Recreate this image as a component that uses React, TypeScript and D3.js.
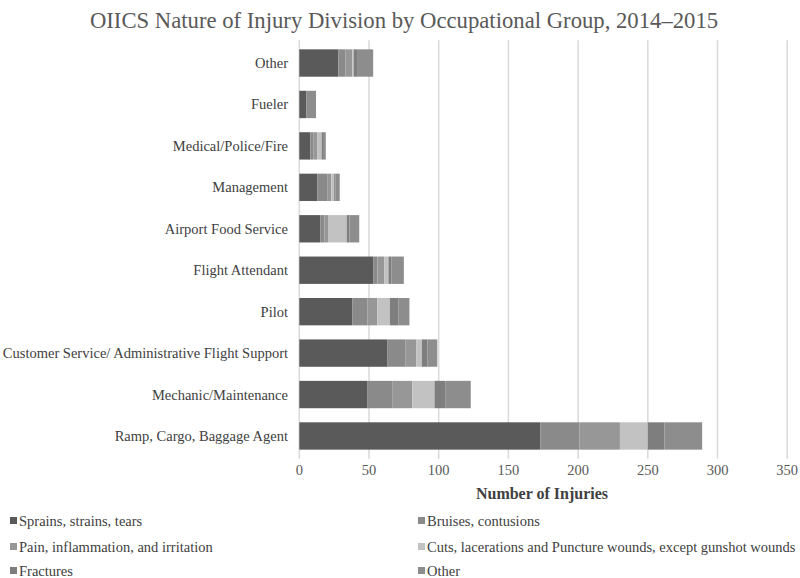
import React from "react";
import * as d3 from "d3";

const categories = [
  "Other",
  "Fueler",
  "Medical/Police/Fire",
  "Management",
  "Airport Food Service",
  "Flight Attendant",
  "Pilot",
  "Customer Service/ Administrative Flight Support",
  "Mechanic/Maintenance",
  "Ramp, Cargo, Baggage Agent",
];

const seriesNames = [
  "Sprains, strains, tears",
  "Bruises, contusions",
  "Pain, inflammation, and irritation",
  "Cuts, lacerations and Puncture wounds, except gunshot wounds",
  "Fractures",
  "Other",
];

const sprains = [28, 5, 8, 13, 15, 53, 38, 63, 49, 173];
const bruises = [5, 0, 2, 7, 3, 3, 11, 13, 18, 28];
const pain = [5, 0, 3, 3, 3, 5, 7, 8, 14, 29];
const cuts = [1, 0, 3, 2, 13, 3, 9, 4, 16, 20];
const fractures = [3, 0, 1, 1, 2, 2, 6, 4, 8, 12];
const other = [11, 7, 2, 3, 7, 9, 8, 7, 18, 27];

const xTicks = [0, 50, 100, 150, 200, 250, 300, 350];

const colors = ["#5a5a5a", "#8a8a8a", "#979797", "#c2c2c2", "#7e7e7e", "#8d8d8d"];

export default function App() {
  const W = 800;
  const H = 578;
  const left = 299.3;
  const right = 787.2;
  const top = 42.3;
  const bottom = 456.7;
  const font = "'Liberation Serif', 'Times New Roman', serif";

  const x = d3.scaleLinear().domain([0, 350]).range([left, right]);
  const y = d3.scaleBand().domain(categories).range([top, bottom]).paddingInner(0.34).paddingOuter(0.17);

  const seriesData = [sprains, bruises, pain, cuts, fractures, other];
  const rows = categories.map((c, i) => {
    const o: any = { cat: c };
    seriesNames.forEach((s, j) => (o[s] = seriesData[j][i]));
    return o;
  });
  const stack = d3.stack<any>().keys(seriesNames)(rows);

  const legendPos = [
    [10, 521],
    [418, 521],
    [10, 547],
    [418, 547],
    [10, 571],
    [418, 571],
  ];

  return (
    <svg width={W} height={H} style={{ position: "absolute", left: 0, top: 0, background: "#fff" }} fontFamily={font}>
      <text x={404} y={28} textAnchor="middle" fontSize={22.7} fill="#595959">
        OIICS Nature of Injury Division by Occupational Group, 2014–2015
      </text>
      {xTicks.map((t) => (
        <line key={t} x1={x(t)} x2={x(t)} y1={top - 2} y2={bottom + 2} stroke="#d9d9d9" strokeWidth={1.5} />
      ))}
      {stack.map((layer, j) => (
        <g key={j} fill={colors[j]}>
          {layer.map((d, i) => (
            <rect
              key={i}
              x={x(d[0])}
              width={Math.max(0, x(d[1]) - x(d[0]))}
              y={y(categories[i])}
              height={y.bandwidth()}
            />
          ))}
        </g>
      ))}
      {categories.map((c) => (
        <text key={c} x={288} y={(y(c) as number) + y.bandwidth() / 2 + 5} textAnchor="end" fontSize={14.5} fill="#404040">
          {c}
        </text>
      ))}
      {xTicks.map((t) => (
        <text key={t} x={x(t)} y={475} textAnchor="middle" fontSize={14.5} fill="#595959">
          {t}
        </text>
      ))}
      <text x={542} y={499} textAnchor="middle" fontSize={16} fontWeight="bold" fill="#404040">
        Number of Injuries
      </text>
      {seriesNames.map((s, j) => (
        <g key={s}>
          <rect x={legendPos[j][0]} y={legendPos[j][1] - 4} width={7} height={7} fill={colors[j]} />
          <text x={legendPos[j][0] + 9} y={legendPos[j][1] + 4.5} fontSize={14.5} fill="#404040">
            {s}
          </text>
        </g>
      ))}
    </svg>
  );
}
